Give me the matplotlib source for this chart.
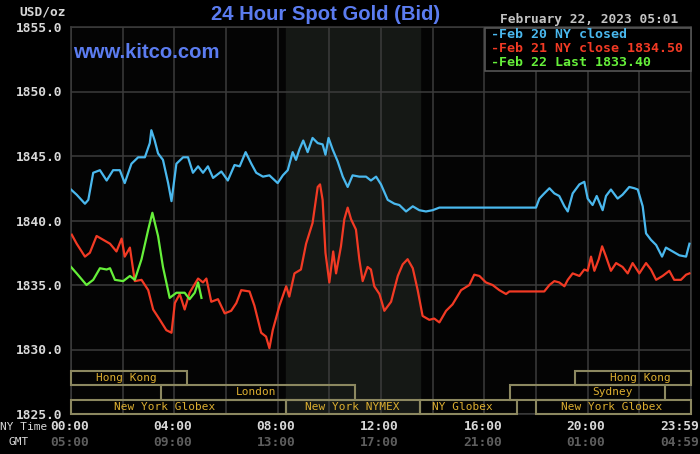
import matplotlib
matplotlib.use('Agg')
import matplotlib.pyplot as plt
from matplotlib.patches import Rectangle
import matplotlib.transforms as mtransforms

# Feb 20 (NY closed) - hour of day (NY time), price
feb20_hours = [0.0, 0.22, 0.54, 0.67, 0.86, 1.12, 1.38, 1.63, 1.89, 2.08, 2.34, 2.6, 2.86, 3.05,
               3.11, 3.24, 3.37, 3.56, 3.76, 3.89, 4.08, 4.34, 4.53, 4.72, 4.92, 5.11, 5.3, 5.5,
               5.82, 6.07, 6.33, 6.53, 6.76, 6.98, 7.17, 7.43, 7.68, 8.0, 8.2, 8.39, 8.58, 8.71,
               8.84, 8.99, 9.16, 9.35, 9.55, 9.74, 9.85, 9.97, 10.13, 10.32, 10.52, 10.71, 10.9,
               11.16, 11.42, 11.61, 11.81, 12.0, 12.26, 12.52, 12.71, 12.97, 13.23, 13.48, 13.74,
               14.0, 14.26, 14.52, 16.0, 18.0, 18.13, 18.32, 18.52, 18.71, 18.9, 19.1, 19.23,
               19.42, 19.68, 19.87, 20.0, 20.19, 20.35, 20.58, 20.71, 20.9, 21.16, 21.35, 21.61,
               21.81, 21.94, 22.13, 22.26, 22.45, 22.65, 22.88, 23.03, 23.29, 23.55, 23.81, 23.94]
feb20_price = [1842.4, 1842.0, 1841.3, 1841.6, 1843.7, 1843.9, 1843.1, 1843.9, 1843.9, 1842.9,
               1844.4, 1844.9, 1844.9, 1846.0, 1847.0, 1846.2, 1845.2, 1844.7, 1842.9, 1841.5,
               1844.4, 1844.9, 1844.9, 1843.7, 1844.2, 1843.7, 1844.2, 1843.3, 1843.8, 1843.1,
               1844.3, 1844.2, 1845.3, 1844.4, 1843.7, 1843.4, 1843.5, 1842.9, 1843.5, 1843.9,
               1845.3, 1844.7, 1845.5, 1846.2, 1845.3, 1846.4, 1846.0, 1845.9, 1845.1, 1846.4,
               1845.5, 1844.6, 1843.4, 1842.6, 1843.5, 1843.4, 1843.4, 1843.1, 1843.4, 1842.8,
               1841.6, 1841.3, 1841.2, 1840.7, 1841.1, 1840.8, 1840.7, 1840.8, 1841.0, 1841.0,
               1841.0, 1841.0, 1841.7, 1842.1, 1842.5, 1842.1, 1841.9, 1841.1, 1840.7, 1842.1,
               1842.8, 1843.0, 1841.7, 1841.2, 1841.9, 1840.8, 1841.9, 1842.4, 1841.7, 1842.0,
               1842.6, 1842.5, 1842.4, 1841.1, 1839.0, 1838.5, 1838.1, 1837.2, 1837.9, 1837.6,
               1837.3, 1837.2, 1838.2]

# Feb 21 (NY close 1834.50)
feb21_hours = [0.03, 0.22, 0.54, 0.73, 0.99, 1.25, 1.51, 1.76, 1.96, 2.08, 2.28, 2.47, 2.73, 2.99,
               3.18, 3.44, 3.69, 3.89, 4.02, 4.21, 4.4, 4.59, 4.92, 5.11, 5.24, 5.43, 5.69, 5.95,
               6.2, 6.4, 6.59, 6.91, 7.1, 7.36, 7.55, 7.68, 7.81, 8.07, 8.33, 8.45, 8.65, 8.9,
               9.1, 9.35, 9.55, 9.64, 9.74, 9.85, 10.0, 10.15, 10.26, 10.45, 10.58, 10.71, 10.84,
               11.03, 11.16, 11.29, 11.48, 11.61, 11.74, 11.94, 12.13, 12.39, 12.65, 12.84, 13.03,
               13.23, 13.42, 13.61, 13.87, 14.06, 14.26, 14.52, 14.77, 15.1, 15.42, 15.61, 15.81,
               16.06, 16.32, 16.58, 16.84, 16.97, 18.32, 18.52, 18.71, 18.9, 19.1, 19.23, 19.42,
               19.68, 19.87, 20.0, 20.13, 20.26, 20.43, 20.56, 20.71, 20.9, 21.1, 21.35, 21.55,
               21.74, 22.0, 22.26, 22.45, 22.65, 22.9, 23.16, 23.35, 23.61, 23.81, 23.94]
feb21_price = [1838.9, 1838.2, 1837.2, 1837.5, 1838.8, 1838.5, 1838.2, 1837.6, 1838.6, 1837.2,
               1837.9, 1835.3, 1835.4, 1834.6, 1833.1, 1832.3, 1831.5, 1831.3, 1833.6, 1834.3,
               1833.1, 1834.4, 1835.5, 1835.2, 1835.5, 1833.7, 1833.9, 1832.8, 1833.0, 1833.6,
               1834.6, 1834.5, 1833.4, 1831.3, 1831.0, 1830.1, 1831.5, 1833.4, 1834.9, 1834.1,
               1835.9, 1836.2, 1838.2, 1839.8, 1842.6, 1842.8, 1841.6, 1837.5, 1835.2, 1837.6,
               1835.9, 1838.0, 1840.1, 1841.0, 1840.1, 1839.3, 1837.0, 1835.3, 1836.4, 1836.2,
               1834.9, 1834.3, 1833.0, 1833.7, 1835.7, 1836.6, 1837.0, 1836.3, 1834.6, 1832.6,
               1832.3, 1832.4, 1832.1, 1833.0, 1833.5, 1834.6, 1835.0, 1835.8, 1835.7, 1835.2,
               1835.0, 1834.6, 1834.3, 1834.5, 1834.5, 1835.0, 1835.3, 1835.2, 1834.9, 1835.4,
               1835.9, 1835.7, 1836.2, 1836.1, 1837.2, 1836.1, 1837.0, 1838.0, 1837.2, 1836.1,
               1836.7, 1836.4, 1835.9, 1836.7, 1835.9, 1836.7, 1836.2, 1835.4, 1835.7, 1836.1,
               1835.4, 1835.4, 1835.8, 1835.9]

# Feb 22 (last 1833.40)
feb22_hours = [0.0, 0.22, 0.6, 0.86, 1.12, 1.38, 1.51, 1.7, 2.02, 2.28, 2.47, 2.73, 2.99, 3.15,
               3.37, 3.56, 3.82, 4.08, 4.4, 4.59, 4.79, 4.92, 5.05]
feb22_price = [1836.4, 1835.9, 1835.0, 1835.4, 1836.3, 1836.2, 1836.3, 1835.4, 1835.3, 1835.7,
               1835.4, 1837.0, 1839.3, 1840.6, 1838.8, 1836.4, 1834.0, 1834.4, 1834.4, 1833.9,
               1834.4, 1835.2, 1834.0]

# trading sessions (row 0 = top)
session_names = ['Hong Kong', 'Hong Kong', 'London', 'Sydney', 'New York Globex',
                 'New York NYMEX', 'NY Globex', 'New York Globex']
session_rows = [0, 0, 1, 1, 2, 2, 2, 2]
session_start = [0.0, 19.5, 3.5, 17.0, 0.0, 8.33, 13.5, 18.0]
session_end = [4.5, 24.0, 11.0, 23.0, 8.33, 13.5, 17.25, 24.0]
session_label_x = [2.13, 22.05, 7.16, 20.97, 3.64, 10.9, 15.16, 20.93]

ny_labels = ['00:00', '04:00', '08:00', '12:00', '16:00', '20:00', '23:59']
gmt_labels = ['05:00', '09:00', '13:00', '17:00', '21:00', '01:00', '04:59']
label_hours = [0, 4, 8, 12, 16, 20, 24]

BLUE = '#4ab8ee'
RED = '#f23a24'
GREEN = '#66f03a'
GRID = '#3c3c3c'
MONO = 'DejaVu Sans Mono'

fig = plt.figure(figsize=(7, 4.54), dpi=100, facecolor='black')
ax = fig.add_axes([71 / 700, 40 / 454, 620 / 700, 387 / 454])
ax.set_facecolor('#040404')
ax.set_xlim(0, 24)
ax.set_ylim(1825, 1855)

# NYMEX open hours shading
ax.axvspan(8.33, 13.5, color='#151815', zorder=0)

ax.set_xticks(range(0, 25, 2))
ax.set_yticks(range(1825, 1856, 5))
ax.grid(True, color=GRID, lw=1.1, zorder=1)
ax.tick_params(length=0, labelbottom=False, colors='#d8d8d8', pad=6)
ax.set_yticklabels(['%.1f' % v for v in range(1825, 1856, 5)],
                   family=MONO, fontweight='bold', fontsize=9.3)
for s in ax.spines.values():
    s.set_color(GRID)
    s.set_linewidth(1.1)

ax.plot(feb20_hours, feb20_price, color=BLUE, lw=1.6, zorder=4)
ax.plot(feb21_hours, feb21_price, color=RED, lw=1.6, zorder=4)
ax.plot(feb22_hours, feb22_price, color=GREEN, lw=1.6, zorder=5)

# session boxes
trans = mtransforms.blended_transform_factory(ax.transData, ax.transAxes)
row_h = 0.0372
for name, row, x0, x1, lx in zip(session_names, session_rows, session_start,
                                 session_end, session_label_x):
    y0 = (2 - row) * row_h
    ax.add_patch(Rectangle((x0, y0), x1 - x0, row_h, transform=trans, fill=False,
                           edgecolor='#8c8860', lw=1.5, zorder=3, clip_on=False))
    ax.text(lx, y0 + row_h / 2, name, transform=trans, ha='center', va='center',
            family=MONO, fontsize=8, color='#dcae30', zorder=6)

# time labels
tx = mtransforms.blended_transform_factory(ax.transData, fig.transFigure)
for h, ny, gmt in zip(label_hours, ny_labels, gmt_labels):
    ha = 'right' if h == 24 else 'center'
    xh = h + 0.3 if h == 24 else h - 0.06
    fig.text(xh, 1 - 427 / 454, ny, transform=tx, ha=ha, va='center', family=MONO,
             fontweight='bold', fontsize=9.3, color='#d8d8d8')
    fig.text(xh, 1 - 442 / 454, gmt, transform=tx, ha=ha, va='center', family=MONO,
             fontweight='bold', fontsize=9.3, color='#5e5e5e')
fig.text(0, 1 - 427 / 454, 'NY Time', ha='left', va='center', family=MONO,
         fontsize=8, color='#d8d8d8')
fig.text(19 / 700, 1 - 442 / 454, 'GMT', ha='center', va='center', family=MONO,
         fontsize=8, color='#d8d8d8')
fig.text(66 / 700, 1 - 12 / 454, 'USD/oz', ha='right', va='center', family=MONO,
         fontweight='bold', fontsize=9.3, color='#d8d8d8')

# titles
fig.text(326 / 700, 1 - 15 / 454, '24 Hour Spot Gold (Bid)', ha='center', va='center',
         family='Liberation Sans', fontweight='bold', fontsize=14.6, color='#5b7cf0')
fig.text(73 / 700, 1 - 52 / 454, 'www.kitco.com', ha='left', va='center',
         family='Liberation Sans', fontweight='bold', fontsize=14.6, color='#5b7cf0',
         zorder=6)
fig.text(678 / 700, 1 - 19.5 / 454, 'February 22, 2023 05:01', ha='right', va='center',
         family=MONO, fontweight='bold', fontsize=9.3, color='#c4c4c4')

# legend box
fig.patches.append(Rectangle((485 / 700, 1 - 71 / 454), 206 / 700, 43 / 454,
                             transform=fig.transFigure, facecolor='black',
                             edgecolor='#555555', lw=1.2, zorder=10))
legend_text = ['-Feb 20 NY closed', '-Feb 21 NY close 1834.50', '-Feb 22 Last 1833.40']
for t, c, yy in zip(legend_text, [BLUE, RED, GREEN], [35, 49, 62.5]):
    fig.text(491 / 700, 1 - yy / 454, t, ha='left', va='center', family=MONO,
             fontweight='bold', fontsize=9.5, color=c, zorder=11)

fig.savefig('out.png', dpi=100, facecolor='black')
